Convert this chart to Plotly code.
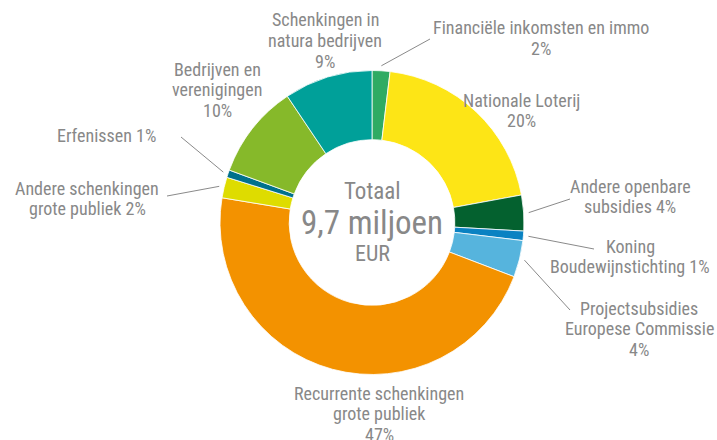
"""Donut chart: inkomsten 9,7 miljoen EUR."""

import math

import plotly.graph_objects as go

W, H = 717, 440

# ─────────────────────────────────────────────────────────────────────────────
# DATA
# ─────────────────────────────────────────────────────────────────────────────

categories = [
    "Financiële inkomsten en immo",
    "Nationale Loterij",
    "Andere openbare subsidies",
    "Koning Boudewijnstichting",
    "Projectsubsidies Europese Commissie",
    "Recurrente schenkingen grote publiek",
    "Andere schenkingen grote publiek",
    "Erfenissen",
    "Bedrijven en verenigingen",
    "Schenkingen in natura bedrijven",
]
shares = [1.9, 20.2, 3.8, 1.0, 3.9, 46.8, 2.2, 0.8, 10.0, 9.4]

# how each label is broken over lines ("{p}" = rounded percentage)
label_lines = [
    ["Financiële inkomsten en immo", "{p}%"],
    ["Nationale Loterij", "{p}%"],
    ["Andere openbare", "subsidies {p}%"],
    ["Koning", "Boudewijnstichting {p}%"],
    ["Projectsubsidies", "Europese Commissie", "{p}%"],
    ["Recurrente schenkingen", "grote publiek", "{p}%"],
    ["Andere schenkingen", "grote publiek {p}%"],
    ["Erfenissen {p}%"],
    ["Bedrijven en", "verenigingen", "{p}%"],
    ["Schenkingen in", "natura bedrijven", "{p}%"],
]

center_lines = ["Totaal", "9,7 miljoen", "EUR"]

# ─────────────────────────────────────────────────────────────────────────────
# STYLE / LAYOUT
# ─────────────────────────────────────────────────────────────────────────────

colors = [
    "#2fab63", "#fde516", "#04612f", "#0a82c2", "#56b4dd",
    "#f39200", "#dedc00", "#00718c", "#86b92a", "#00a099",
]

FONT = "Liberation Sans Narrow, Roboto Condensed, Arial Narrow, sans-serif"
GREY = "#888888"
LINE_H = 20.8

CX, CY, R = 372, 222.5, 152          # donut centre / radius in px

# first-line anchor (px), text anchor, leader end (px) or None
label_pos = [
    (541, 28, "center", (430, 39)),
    (521, 100, "center", None),
    (630, 186, "center", (570, 199)),
    (630, 246, "center", (594, 249)),
    (639, 308, "center", (570, 310)),
    (379, 393, "center", None),
    (87, 188, "center", (167, 196)),
    (158, 135, "right", (181, 137)),
    (217, 69, "center", None),
    (325, 20, "center", None),
]


def px(x, y):
    return x / W, 1 - y / H


fig = go.Figure(go.Pie(
    labels=categories,
    values=shares,
    hole=0.545,
    sort=False,
    direction="clockwise",
    rotation=0,
    marker=dict(colors=colors, line=dict(color="white", width=0.8)),
    textinfo="none",
    hoverinfo="label+percent",
    showlegend=False,
    domain=dict(
        x=[(CX - R) / W, (CX + R) / W],
        y=[1 - (CY + R) / H, 1 - (CY - R) / H],
    ),
))

annotations, shapes = [], []
total = sum(shares)
cum = 0.0
for val, lines, (lx, ly, anchor, lead) in zip(shares, label_lines, label_pos):
    mid = (cum + val / 2) / total * 2 * math.pi
    cum += val
    pct = round(val / total * 100)
    for i, line in enumerate(lines):
        x0, y0 = px(lx, ly + i * LINE_H)
        annotations.append(dict(
            text=line.format(p=pct),
            x=x0, y=y0, xref="paper", yref="paper",
            xanchor=anchor, yanchor="middle",
            showarrow=False, font=dict(family=FONT, size=18, color=GREY),
        ))
    if lead:
        sx, sy = px(CX + (R + 5) * math.sin(mid), CY - (R + 5) * math.cos(mid))
        ex, ey = px(*lead)
        shapes.append(dict(
            type="line", xref="paper", yref="paper",
            x0=sx, y0=sy, x1=ex, y1=ey,
            line=dict(color="#8a8a8a", width=1),
        ))

for txt, dy, size in zip(center_lines, (-31, 0, 31), (23, 33, 22)):
    x0, y0 = px(CX, CY + dy)
    annotations.append(dict(
        text=txt, x=x0, y=y0, xref="paper", yref="paper",
        xanchor="center", yanchor="middle", showarrow=False,
        font=dict(family=FONT, size=size, color=GREY),
    ))

fig.update_layout(
    width=W, height=H,
    margin=dict(l=0, r=0, t=0, b=0),
    annotations=annotations,
    shapes=shapes,
    plot_bgcolor="white",
    paper_bgcolor="white",
)

fig.write_html(
    "out.html",
    config={"displayModeBar": False},
    post_script="document.body.style.margin = '0';",
)
